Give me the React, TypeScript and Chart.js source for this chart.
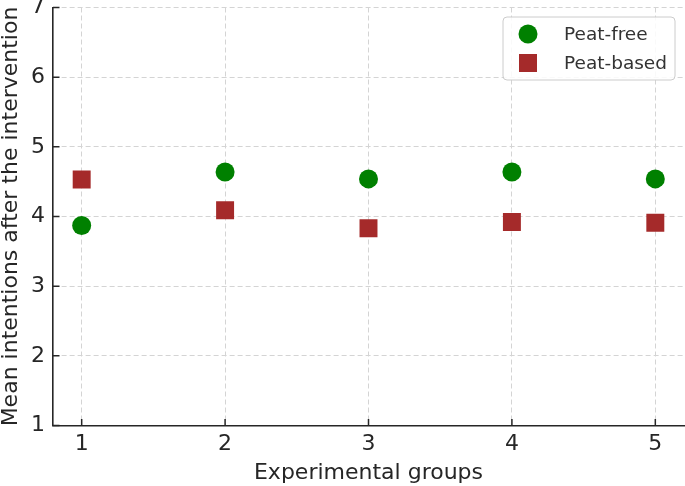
import React, { useEffect, useRef } from "react";
import { Chart, registerables } from "chart.js";

Chart.register(...registerables);

const groups = [1, 2, 3, 4, 5];
const peatFree = [3.87, 4.64, 4.54, 4.64, 4.54];
const peatBased = [4.53, 4.09, 3.83, 3.92, 3.91];
const yTicks = [1, 2, 3, 4, 5, 6, 7];
const seriesLabels = ["Peat-free", "Peat-based"];

const FONT = "'DejaVu Sans', sans-serif";
const GREEN = "#008000";
const BROWN = "#a52a2a";
const AXIS = "#262626";

const innerTicks = {
  id: "innerTicks",
  afterDraw(chart: any) {
    const { ctx, chartArea, scales } = chart;
    ctx.save();
    ctx.strokeStyle = AXIS;
    ctx.lineWidth = 1.5;
    ctx.beginPath();
    groups.forEach((g) => {
      const px = scales.x.getPixelForValue(g);
      ctx.moveTo(px, chartArea.bottom);
      ctx.lineTo(px, chartArea.bottom - 6.5);
    });
    yTicks.forEach((t) => {
      const py = scales.y.getPixelForValue(t);
      ctx.moveTo(chartArea.left, py);
      ctx.lineTo(chartArea.left + 6.5, py);
    });
    ctx.stroke();
    ctx.restore();
  },
};

const boxLegend = {
  id: "boxLegend",
  afterDraw(chart: any) {
    const { ctx, chartArea } = chart;
    const w = 172;
    const h = 63;
    const x = chartArea.right - 9 - w;
    const y = chartArea.top + 9.5;
    ctx.save();
    ctx.beginPath();
    ctx.roundRect(x, y, w, h, 4);
    ctx.fillStyle = "rgba(255,255,255,0.85)";
    ctx.fill();
    ctx.strokeStyle = "#cccccc";
    ctx.lineWidth = 1;
    ctx.stroke();
    const rows = [y + 17, y + 46];
    ctx.fillStyle = GREEN;
    ctx.beginPath();
    ctx.arc(x + 25, rows[0], 9.5, 0, Math.PI * 2);
    ctx.fill();
    ctx.fillStyle = BROWN;
    ctx.fillRect(x + 16, rows[1] - 9, 18, 18);
    ctx.fillStyle = "#333333";
    ctx.font = `18.5px ${FONT}`;
    ctx.textBaseline = "middle";
    ctx.textAlign = "left";
    ctx.fillText(seriesLabels[0], x + 61, rows[0] + 1);
    ctx.fillText(seriesLabels[1], x + 61, rows[1] + 1);
    ctx.restore();
  },
};

export default function App() {
  const ref = useRef<HTMLCanvasElement | null>(null);
  useEffect(() => {
    if (!ref.current) return;
    const chart = new Chart(ref.current, {
      type: "scatter",
      data: {
        datasets: [
          {
            label: seriesLabels[0],
            data: groups.map((g, i) => ({ x: g, y: peatFree[i] })),
            backgroundColor: GREEN,
            borderColor: GREEN,
            pointStyle: "circle",
            pointRadius: 9.5,
            pointHoverRadius: 9.5,
            borderWidth: 0,
          },
          {
            label: seriesLabels[1],
            data: groups.map((g, i) => ({ x: g, y: peatBased[i] })),
            backgroundColor: BROWN,
            borderColor: BROWN,
            pointStyle: "rect",
            pointRadius: 12.7,
            pointHoverRadius: 12.7,
            borderWidth: 0,
          },
        ],
      },
      options: {
        responsive: false,
        animation: false,
        layout: { autoPadding: false, padding: { top: 7.5, right: 1, left: 0, bottom: 0 } },
        plugins: { legend: { display: false }, tooltip: { enabled: false } },
        scales: {
          x: {
            type: "linear",
            min: 0.8,
            max: 5.2,
            afterBuildTicks: (s: any) => {
              s.ticks = groups.map((v) => ({ value: v }));
            },
            afterFit: (s: any) => {
              s.height = 60.5;
              s.paddingLeft = 0;
              s.paddingRight = 0;
            },
            grid: { color: "#d4d4d4", lineWidth: 1, drawTicks: false },
            border: { color: AXIS, width: 1.6, dash: [5, 3] },
            ticks: {
              color: "#262626",
              font: { family: FONT, size: 22 },
              padding: 6,
              maxRotation: 0,
            },
            title: {
              display: true,
              text: "Experimental groups",
              color: "#262626",
              font: { family: FONT, size: 22, lineHeight: 1.2 },
              padding: { top: 1, bottom: 0 },
            },
          },
          y: {
            type: "linear",
            min: 1,
            max: 7,
            afterBuildTicks: (s: any) => {
              s.ticks = yTicks.map((v) => ({ value: v }));
            },
            afterFit: (s: any) => {
              s.width = 53;
              s.paddingTop = 0;
              s.paddingBottom = 0;
            },
            grid: { color: "#d4d4d4", lineWidth: 1, drawTicks: false },
            border: { color: AXIS, width: 1.6, dash: [5, 3] },
            ticks: {
              color: "#262626",
              font: { family: FONT, size: 22 },
              padding: 8,
            },
            title: {
              display: true,
              text: "Mean intentions after the intervention",
              color: "#262626",
              font: { family: FONT, size: 22, lineHeight: 1.0 },
              padding: { top: 0, bottom: 0 },
            },
          },
        },
      },
      plugins: [innerTicks, boxLegend],
    });
    return () => chart.destroy();
  }, []);
  return (
    <div style={{ position: "fixed", left: 0, top: 0, width: 685, height: 486, background: "#fff" }}>
      <canvas ref={ref} width={685} height={486} style={{ display: "block" }} />
    </div>
  );
}
